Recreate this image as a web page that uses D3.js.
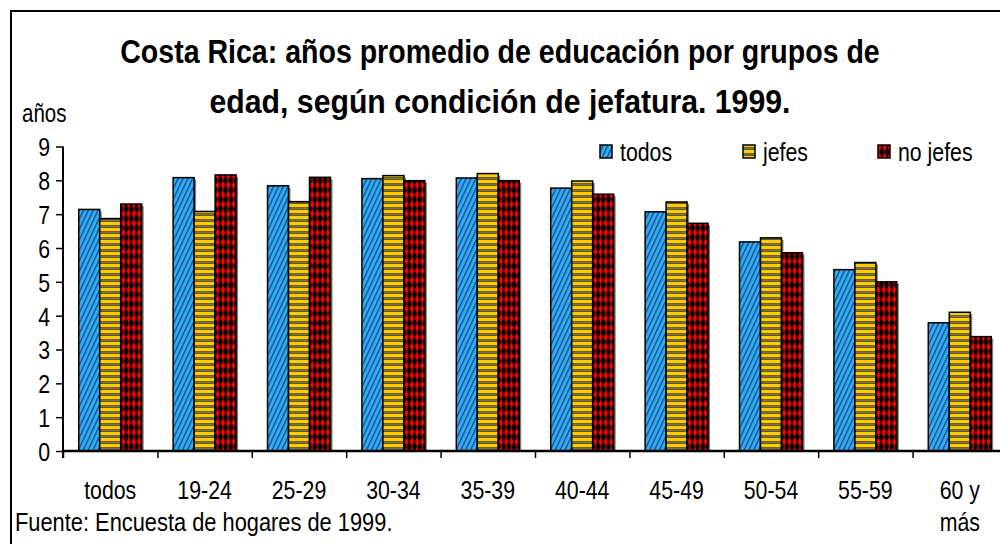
<!DOCTYPE html>
<html>
<head>
<meta charset="utf-8">
<script src="https://cdn.jsdelivr.net/npm/d3@7"></script>
<style>
  body { margin: 0; background: #fff; }
  svg text { font-family: "Liberation Sans", Arial, sans-serif; fill: #000; }
</style>
</head>
<body>
<div id="chart"></div>
<script>
var categories = ["todos", "19-24", "25-29", "30-34", "35-39", "40-44", "45-49", "50-54", "55-59", "60 y más"];
var series = ["todos", "jefes", "no jefes"];
var todosValues = [7.14, 8.08, 7.84, 8.05, 8.07, 7.77, 7.07, 6.18, 5.36, 3.79];
var jefesValues = [6.87, 7.08, 7.37, 8.14, 8.20, 7.98, 7.36, 6.30, 5.57, 4.10];
var noJefesValues = [7.30, 8.16, 8.09, 7.99, 7.99, 7.59, 6.73, 5.86, 5.00, 3.38];
var yTicks = [0, 1, 2, 3, 4, 5, 6, 7, 8, 9];

var svgWidth = 1000;
var svgHeight = 544;
var squeeze = 0.82; // the original uses a condensed Arial

var svg = d3.select("#chart")
  .append("svg")
  .attr("width", svgWidth)
  .attr("height", svgHeight);

// squeeze a text horizontally around its anchor point
function narrow(sel, k) {
  k = k || squeeze;
  sel.attr("transform", function () {
    var x = +this.getAttribute("x") || 0;
    return `translate(${x},0) scale(${k},1) translate(${-x},0)`;
  });
}

// patterns for the three series
var defs = svg.append("defs");

var pTodos = defs.append("pattern")
  .attr("id", "pTodos")
  .attr("patternUnits", "userSpaceOnUse")
  .attr("width", 4.4).attr("height", 10)
  .attr("patternTransform", "rotate(25)");
pTodos.append("rect").attr("width", 4.4).attr("height", 10).attr("fill", "#22b6ef");
pTodos.append("rect").attr("x", 0).attr("width", 1.4).attr("height", 10).attr("fill", "#3d3a98");

var pJefes = defs.append("pattern")
  .attr("id", "pJefes")
  .attr("patternUnits", "userSpaceOnUse")
  .attr("width", 10).attr("height", 6);
pJefes.append("rect").attr("width", 10).attr("height", 6).attr("fill", "#ffcc00");
pJefes.append("rect").attr("y", 3.3).attr("width", 10).attr("height", 0.8).attr("fill", "#333");
pJefes.append("rect").attr("y", 4.1).attr("width", 10).attr("height", 1.2).attr("fill", "#6e6a50");
pJefes.append("rect").attr("y", 5.3).attr("width", 10).attr("height", 0.7).attr("fill", "#333");

var pNo = defs.append("pattern")
  .attr("id", "pNo")
  .attr("patternUnits", "userSpaceOnUse")
  .attr("width", 5.25).attr("height", 9.5);
pNo.append("rect").attr("width", 5.25).attr("height", 9.5).attr("fill", "#000");
pNo.append("rect").attr("x", 2.2).attr("width", 0.9).attr("height", 9.5).attr("fill", "#c00000");
pNo.append("polygon").attr("points", "2.62,0.5 4.8,4.75 2.62,9 0.45,4.75").attr("fill", "#ff0000");

var fills = { "todos": "url(#pTodos)", "jefes": "url(#pJefes)", "no jefes": "url(#pNo)" };

// frame (clipped on the right and bottom like the original)
svg.append("path")
  .attr("d", "M11,544 V11 H1000")
  .attr("fill", "none")
  .attr("stroke", "#000")
  .attr("stroke-width", 2);

// title, squeezed to the widths seen in the original
var titleLines = ["Costa Rica: años promedio de educación por grupos de", "edad, según condición de jefatura. 1999."];
var titleWidths = [760, 581];
titleLines.forEach(function (t, i) {
  var tt = svg.append("text")
    .attr("x", 500)
    .attr("y", 63 + i * 50)
    .attr("text-anchor", "middle")
    .attr("font-size", 34)
    .attr("font-weight", "bold")
    .text(t);
  var natural = tt.node().getComputedTextLength();
  tt.call(narrow, titleWidths[i] / natural);
});

svg.append("text")
  .attr("x", 22).attr("y", 122)
  .attr("font-size", 25)
  .text("años")
  .call(narrow);

// scales
var x0 = d3.scaleBand()
  .domain(categories)
  .range([63, 1007])
  .paddingInner(0.333)
  .paddingOuter(0.1667);

var x1 = d3.scaleBand()
  .domain(series)
  .range([0, x0.bandwidth()]);

var xEdge = d3.scaleLinear()
  .domain([0, categories.length])
  .range([63, 1007]);

var y = d3.scaleLinear()
  .domain([0, 9])
  .range([451, 146.5]);

var data = categories.map(function (c, i) {
  return { cat: c, vals: [
    { s: "todos", v: todosValues[i] },
    { s: "jefes", v: jefesValues[i] },
    { s: "no jefes", v: noJefesValues[i] }
  ] };
});

// bars
var groups = svg.selectAll(".grp")
  .data(data)
  .enter()
  .append("g")
  .attr("class", "grp")
  .attr("transform", d => `translate(${x0(d.cat)},0)`);

// shadow
groups.selectAll(".shadow")
  .data(d => d.vals)
  .enter()
  .append("rect")
  .attr("class", "shadow")
  .attr("x", d => x1(d.s) + 2)
  .attr("y", d => y(d.v) + 2)
  .attr("width", x1.bandwidth())
  .attr("height", d => y(0) - y(d.v) - 2)
  .attr("fill", "#808080");

groups.selectAll(".bar")
  .data(d => d.vals)
  .enter()
  .append("rect")
  .attr("class", "bar")
  .attr("x", d => x1(d.s))
  .attr("y", d => y(d.v))
  .attr("width", x1.bandwidth())
  .attr("height", d => y(0) - y(d.v))
  .attr("fill", d => fills[d.s])
  .attr("stroke", "#000")
  .attr("stroke-width", 1.5);

// axes
var leftAxis = d3.axisLeft(y).tickValues(yTicks).tickSize(7).tickPadding(6);
var gy = svg.append("g")
  .attr("transform", "translate(63,0)")
  .call(leftAxis);
gy.select(".domain").attr("stroke-width", 2).attr("d", "M0,146.5V458");
gy.selectAll(".tick line").attr("stroke-width", 1.5);
gy.selectAll(".tick text")
  .attr("font-size", 26)
  .attr("font-family", null)
  .attr("dy", "0.36em")
  .call(narrow);

var bottomAxis = d3.axisBottom(xEdge)
  .tickValues(d3.range(categories.length + 1))
  .tickSize(7)
  .tickFormat("");
var gx = svg.append("g")
  .attr("transform", "translate(0,451)")
  .call(bottomAxis);
gx.select(".domain").attr("stroke-width", 2.5).attr("d", "M63,0H1007");
gx.selectAll(".tick line").attr("stroke-width", 1.5);

// category labels
categories.forEach(function (c) {
  var parts = c.length > 6 ? [c.slice(0, c.lastIndexOf(" ")), c.slice(c.lastIndexOf(" ") + 1)] : [c];
  parts.forEach(function (p, k) {
    svg.append("text")
      .attr("x", x0(c) + x0.bandwidth() / 2)
      .attr("y", 499 + k * 32)
      .attr("text-anchor", "middle")
      .attr("font-size", 26)
      .text(p)
      .call(narrow);
  });
});

svg.append("text")
  .attr("x", 15).attr("y", 531)
  .attr("font-size", 26)
  .text("Fuente: Encuesta de hogares de 1999.")
  .call(narrow, 0.84);

// legend
var legendX = [600, 743, 878];
series.forEach(function (s, i) {
  svg.append("rect")
    .attr("x", legendX[i]).attr("y", 145)
    .attr("width", 12).attr("height", 13)
    .attr("fill", fills[s])
    .attr("stroke", "#000")
    .attr("stroke-width", 1.5);
  svg.append("text")
    .attr("x", legendX[i] + 20).attr("y", 161)
    .attr("font-size", 26)
    .text(s)
    .call(narrow);
});
</script>
</body>
</html>
